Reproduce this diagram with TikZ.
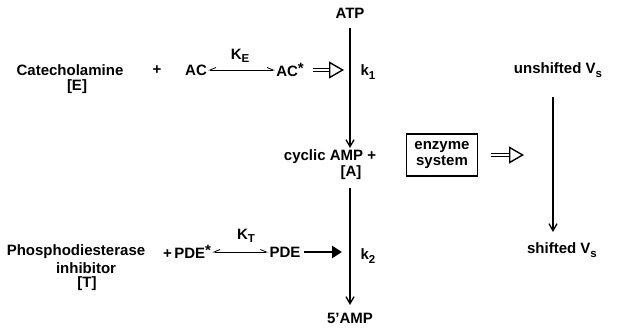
\documentclass[tikz,border=0pt]{standalone}
\usepackage{fontspec}
\setmainfont{Liberation Sans}
\usetikzlibrary{arrows.meta, positioning}

\newcommand{\rstar}{\raisebox{0.3ex}{*}}
\newcommand{\lowsub}[1]{\raisebox{-0.45ex}{\fontsize{11.5}{12}\selectfont #1}}

\begin{document}
\begin{tikzpicture}[x=1pt, y=-1pt,
    txt/.style={inner sep=1pt, font=\fontsize{15}{16}\selectfont\bfseries, align=center},
    rate/.style={inner sep=1pt, font=\fontsize{15}{16}\selectfont\bfseries},
    sysbox/.style={draw, line width=1.1pt, inner sep=0pt, minimum width=71pt, minimum height=42pt, align=center, font=\fontsize{15}{16}\selectfont\bfseries},
    flow/.style={draw, line width=1.3pt, -{Straight Barb[length=7pt, width=8pt, line width=1.3pt]}},
    equil/.style={draw, line width=0.8pt, {Straight Barb[length=6pt, width=5pt, harpoon, swap]}-{Straight Barb[length=6pt, width=5pt, harpoon]}},
    push/.style={draw, line width=2.6pt, -{Triangle[length=10pt, width=12pt]}},
    open/.style={draw, line width=1.1pt, double, double distance=2.2pt, -{Triangle[open, length=15pt, width=17pt, line width=1.4pt]}}
]
    \useasboundingbox (0,0) rectangle (623,328);

    % upper line: activation of adenylate cyclase
    \node [txt] (cat) at (70,70) {Catecholamine};
    \node [txt] (catE) at (77,87) {[E]};
    \node [txt] (plusA) at (157,70) {+};
    \node [txt] (ac) at (196,70) {AC};
    \node [txt] (acs) at (290,70) {AC\rstar};
    \node [rate] (ke) at (240,56) {K\lowsub{E}};
    \path [equil] (ac.east) -- (acs.west);

    % main chain
    \node [txt] (atp) at (350,13) {ATP};
    \node [txt] (camp) at (330,157) {cyclic AMP +};
    \node [txt] (campA) at (351,173) {[A]};
    \node [txt] (amp) at (350,318) {5'AMP};
    \node [rate] (k1) at (368,72) {k\lowsub{1}};
    \node [rate] (k2) at (368,256) {k\lowsub{2}};
    \coordinate (top1) at (350,28);
    \coordinate (bot1) at (350,148);
    \coordinate (top2) at (350,188);
    \coordinate (bot2) at (350,305);
    \path [flow] (top1) -- (bot1);
    \path [flow] (top2) -- (bot2);
    \coordinate (acsout) at (313,70);
    \coordinate (hit1) at (344,70);
    \path [open] (acsout) -- (hit1);

    % enzyme system
    \node [sysbox] (enz) at (442,155) {enzyme\\system};
    \coordinate (enzout) at (491,155);
    \coordinate (vs) at (524,155);
    \path [open] (enzout) -- (vs);

    % right column
    \node [txt] (unsh) at (558,70) {unshifted V\lowsub{s}};
    \node [txt] (sh) at (562,250) {shifted V\lowsub{s}};
    \coordinate (vtop) at (553,97);
    \coordinate (vbot) at (553,232);
    \path [flow] (vtop) -- (vbot);

    % lower line: phosphodiesterase inhibition
    \node [txt] (pde_inh) at (76,252) {Phosphodiesterase};
    \node [txt] (inh) at (86,268) {inhibitor};
    \node [txt] (inhT) at (87,284) {[T]};
    \node [txt] (pdes) at (187,252) {+\,PDE\rstar};
    \node [txt] (pde) at (285,252) {PDE};
    \node [rate] (kt) at (246,236) {K\lowsub{T}};
    \coordinate (pdeout) at (304,252);
    \coordinate (hit2) at (342,252);
    \path [equil] (pdes.east) -- (pde.west);
    \path [push] (pdeout) -- (hit2);
\end{tikzpicture}
\end{document}
